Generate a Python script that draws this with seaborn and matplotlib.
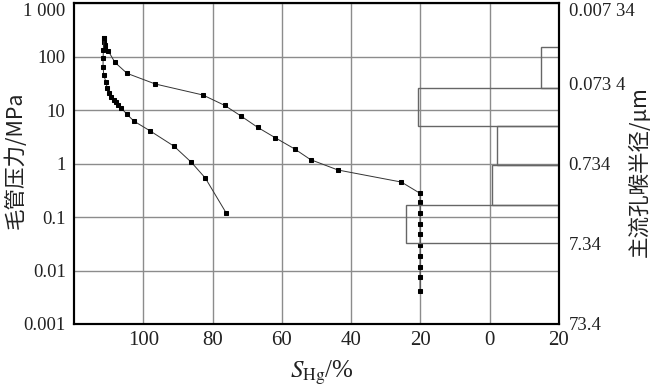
import matplotlib
matplotlib.use("Agg")
import matplotlib.pyplot as plt
import numpy as np
import pandas as pd
import seaborn as sns

# mercury injection curve (S_Hg %, capillary pressure MPa)
inj_s = [20.1, 20.1, 20.1, 20.1, 20.1, 20.1, 20.1, 20.1, 20.1, 20.1,
         25.5, 43.8, 51.7, 56.3, 61.9, 67.0, 71.8, 76.5, 82.8, 96.5,
         104.7, 108.2, 110.1, 110.9, 111.1, 111.2, 111.3]
inj_p = [0.0041, 0.0075, 0.0115, 0.0187, 0.030, 0.0475, 0.074, 0.120, 0.188, 0.277,
         0.45, 0.756, 1.18, 1.87, 3.03, 4.75, 7.73, 12.2, 19.1, 30.6,
         48.5, 78, 127, 144, 164, 189, 219]

# mercury withdrawal curve
wd_s = [111.3, 111.5, 111.6, 111.6, 111.4, 110.8, 110.4, 109.9, 109.2, 108.5,
        107.9, 107.3, 106.3, 104.7, 102.7, 98.1, 91.1, 86.1, 82.1, 76.1]
wd_p = [219, 132, 92.5, 64.5, 45.1, 33.8, 25.5, 20.5, 17.7, 15.4,
        13.9, 12.4, 10.8, 8.3, 6.2, 4.1, 2.1, 1.05, 0.536, 0.12]

# pore-throat radius distribution (radius bins in um, frequency %)
bin_lo = [0.026, 0.084, 0.25, 0.77, 2.4]
bin_hi = [0.084, 0.25, 0.77, 2.4, 7.2]
freq = [5.3, 40.7, 18.0, 19.4, 44.2]

x_ticks = [100, 80, 60, 40, 20, 0, -20]
x_labels = ["100", "80", "60", "40", "20", "0", "20"]
y_ticks = [0.001, 0.01, 0.1, 1, 10, 100, 1000]
y_labels = ["0.001", "0.01", "0.1", "1", "10", "100", "1 000"]
r_ticks = [0.00734, 0.0734, 0.734, 7.34, 73.4]
r_labels = ["0.007 34", "0.073 4", "0.734", "7.34", "73.4"]

sns.set_theme(style="whitegrid")
plt.rcParams["font.family"] = ["Liberation Serif", "Noto Sans CJK SC"]
plt.rcParams["mathtext.fontset"] = "stix"
cjk = ["Noto Sans CJK SC", "Liberation Serif"]

fig = plt.figure(figsize=(6.5, 3.87), dpi=100)
ax = fig.add_axes([0.1138, 0.1628, 0.86 - 0.1138, 0.9922 - 0.1628])

inj = pd.DataFrame({"s": inj_s, "p": inj_p})
wd = pd.DataFrame({"s": wd_s, "p": wd_p})
for df in (inj, wd):
    sns.lineplot(data=df, x="s", y="p", sort=False, estimator=None, ax=ax,
                 color="#333333", lw=0.7, marker="s", markersize=3.5,
                 markeredgecolor="black", markerfacecolor="black", zorder=3)

ax.set_yscale("log")
ax.set_xlim(120, -20)
ax.set_ylim(0.001, 1000)
ax.set_xticks(x_ticks)
ax.set_xticklabels(x_labels)
ax.set_yticks(y_ticks)
ax.set_yticklabels(y_labels)
ax.minorticks_off()
ax.grid(True, color="#8c8c8c", lw=1.0)
ax.tick_params(length=0, labelsize=13.5, colors="#222222")
ax.tick_params(axis="x", pad=5, labelsize=15)
ax.tick_params(axis="y", pad=6)
ax.get_yticklabels()[-1].set_va("top")
for sp in ax.spines.values():
    sp.set_color("black")
    sp.set_linewidth(1.5)
ax.set_xlabel("")
ax.set_ylabel("")

ax2 = ax.twinx()
ax2.set_yscale("log")
ax2.set_ylim(73.4, 0.00734)
ax2.barh(bin_lo, freq, height=np.array(bin_hi) - np.array(bin_lo), left=-20,
         align="edge", fill=False, edgecolor="#666666", lw=1.0)
ax2.set_yticks(r_ticks)
ax2.set_yticklabels(r_labels)
ax2.minorticks_off()
ax2.grid(False)
ax2.tick_params(length=0, labelsize=13.5, colors="#222222", pad=7)
ax2.get_yticklabels()[0].set_va("top")
for sp in ax2.spines.values():
    sp.set_color("black")
    sp.set_linewidth(1.5)
ax2.set_ylabel("")
ax.set_xlim(120, -20)

fig.text(322 / 650, 1 - 373 / 387, r"$S_{\mathrm{Hg}}$/%", fontsize=18,
         ha="center", va="center", color="#222222")
fig.text(15 / 650, 1 - 160 / 387, "毛管压力/MPa", family=cjk, fontsize=15.5,
         rotation=90, ha="center", va="center", color="#222222")
fig.text(640 / 650, 1 - 172 / 387, "主流孔喉半径/μm", family=cjk, fontsize=15.5,
         rotation=90, ha="center", va="center", color="#222222")

fig.savefig("out.png", dpi=100)
